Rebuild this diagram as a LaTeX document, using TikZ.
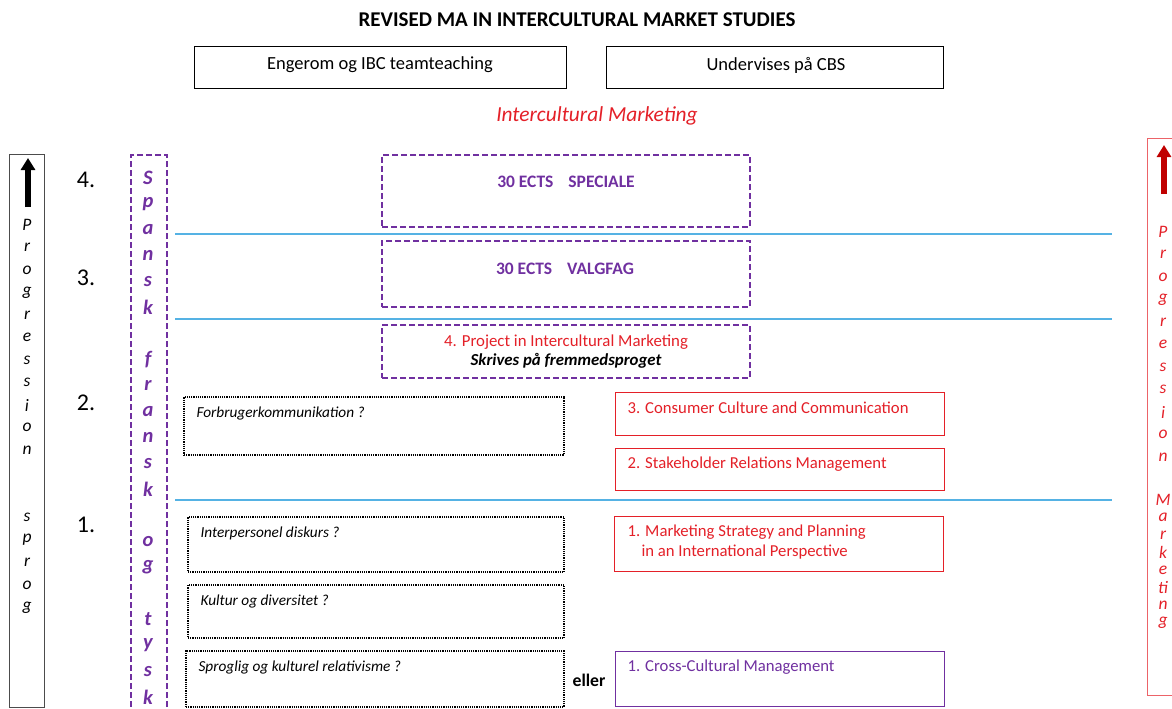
\documentclass[tikz,border=0pt]{standalone}
\usepackage{fontspec}
\setmainfont{Carlito}
\usetikzlibrary{arrows.meta}
\definecolor{mpurple}{RGB}{112,48,160}
\definecolor{mred}{RGB}{228,32,40}
\definecolor{mblue}{RGB}{85,178,228}
\definecolor{dred}{RGB}{192,0,0}
\begin{document}
\begin{tikzpicture}[x=1pt,y=-1pt,
  frame/.style={draw, line width=1pt, inner sep=0pt, anchor=north west},
  pdash/.style={draw=mpurple, line width=2pt, dash pattern=on 6pt off 3pt, inner sep=0pt, anchor=north west},
  dotbox/.style={draw=black, line width=1.8pt, dash pattern=on 1.2pt off 1pt, inner sep=0pt, anchor=north west},
  redbox/.style={draw=mred, line width=1.2pt, inner sep=0pt, anchor=north west},
  pbox/.style={draw=mpurple, line width=1.2pt, inner sep=0pt, anchor=north west},
  sep/.style={draw=mblue, line width=1.5pt},
  txt/.style={font=\fontsize{18.5}{22}\selectfont},
  itxt/.style={font=\fontsize{15.3}{18}\selectfont\itshape, anchor=west},
  rtxt/.style={font=\fontsize{16.7}{20}\selectfont, text=mred, anchor=west},
  num/.style={font=\fontsize{24}{28}\selectfont},
  vl/.style={font=\fontsize{17.5}{19}\selectfont\itshape},
  vs/.style={font=\fontsize{20.5}{22}\selectfont\bfseries\itshape, text=mpurple},
  vr/.style={font=\fontsize{17.5}{19}\selectfont\itshape, text=mred}
]
\useasboundingbox[fill=white] (0,0) rectangle (1172,709);
\begin{scope}
\clip (0,0) rectangle (1172,709);

% title and header boxes
\node[font=\fontsize{21}{24}\selectfont\bfseries] (title) at (577,20) {REVISED MA IN INTERCULTURAL MARKET STUDIES};
\node[frame, minimum width=372pt, minimum height=42pt] (hb1) at (194,46) {};
\node[txt] (hb1t) at (380,65) {Engerom og IBC teamteaching};
\node[frame, minimum width=337pt, minimum height=42pt] (hb2) at (606,46) {};
\node[txt] (hb2t) at (776,65) {Undervises på CBS};
\node[font=\fontsize{21.4}{25}\selectfont\itshape, text=mred] (im) at (597,116) {Intercultural Marketing};

% left progression box
\node[draw=black!70, line width=0.8pt, inner sep=0pt, anchor=north west, minimum width=35pt, minimum height=553pt] (lbox) at (9,154) {};
\coordinate (la0) at (28,207);
\coordinate (la1) at (28,158);
\draw[line width=6pt, -{Triangle[width=14pt,length=12pt]}] (la0) -- (la1);
\foreach \l [count=\i from 0] in {P,r,o,g,r,e,s,s,i,o,n,{},{},s,p,r,o,g}
  \node[vl] (lp\i) at (27,{225+22.5*\i}) {\l};

% numbers
\node[num] (n4) at (86,180) {4.};
\node[num] (n3) at (86,278) {3.};
\node[num] (n2) at (86,403) {2.};
\node[num] (n1) at (86,525) {1.};

% language column
\node[pdash, minimum width=36pt, minimum height=570pt] (lang) at (130,154) {};
\foreach \l [count=\i from 0] in {S,p,a,n,s,k,{},f,r,a,n,s,k,{},o,g,{},t,y,s,k}
  \node[vs] (ls\i) at (148,{178+25.95*\i}) {\l};

% separators
\coordinate (s1a) at (175,234); \coordinate (s1b) at (1112,234);
\coordinate (s2a) at (175,319); \coordinate (s2b) at (1112,319);
\coordinate (s3a) at (175,500); \coordinate (s3b) at (1112,500);
\draw[sep] (s1a) -- (s1b);
\draw[sep] (s2a) -- (s2b);
\draw[sep] (s3a) -- (s3b);

% purple dashed centre boxes
\node[pdash, minimum width=368pt, minimum height=72pt] (spec) at (381,154) {};
\node[font=\fontsize{17.5}{20}\selectfont\bfseries, text=mpurple] (spect) at (566,182) {30 ECTS\hspace{15pt}SPECIALE};
\node[pdash, minimum width=368pt, minimum height=66pt] (valg) at (381,240) {};
\node[font=\fontsize{17.5}{20}\selectfont\bfseries, text=mpurple] (valgt) at (565,269) {30 ECTS\hspace{15pt}VALGFAG};
\node[pdash, minimum width=368pt, minimum height=53pt] (proj) at (381,324) {};
\node[font=\fontsize{16.8}{20}\selectfont, text=mred] (projt) at (566,342) {4. Project in Intercultural Marketing};
\node[font=\fontsize{16.8}{20}\selectfont\bfseries\itshape] (projs) at (566,361) {Skrives på fremmedsproget};

% dotted boxes
\node[dotbox, minimum width=380pt, minimum height=58pt] (d1) at (183,396) {};
\node[itxt] (d1t) at (193,413) {Forbrugerkommunikation ?};
\node[dotbox, minimum width=376pt, minimum height=55pt] (d2) at (187,516) {};
\node[itxt] (d2t) at (197,533) {Interpersonel diskurs ?};
\node[dotbox, minimum width=376pt, minimum height=53pt] (d3) at (187,584) {};
\node[itxt] (d3t) at (197,601) {Kultur og diversitet ?};
\node[dotbox, minimum width=378pt, minimum height=56pt] (d4) at (185,650) {};
\node[itxt] (d4t) at (195,667) {Sproglig og kulturel relativisme ?};
\node[font=\fontsize{17.7}{20}\selectfont\bfseries] (eller) at (589,680) {eller};

% red boxes
\node[redbox, minimum width=329pt, minimum height=43pt] (r3) at (615,392) {};
\node[rtxt] (r3t) at (624,408) {3. Consumer Culture and Communication};
\node[redbox, minimum width=329pt, minimum height=42pt] (r2) at (615,448) {};
\node[rtxt] (r2t) at (624,464) {2. Stakeholder Relations Management};
\node[redbox, minimum width=329pt, minimum height=55pt] (r1) at (614,516) {};
\node[rtxt] (r1t) at (624,532) {1. Marketing Strategy and Planning};
\node[rtxt] (r1u) at (638,552) {in an International Perspective};
\node[pbox, minimum width=329pt, minimum height=55pt] (cc) at (615,651) {};
\node[font=\fontsize{16.7}{20}\selectfont, text=mpurple, anchor=west] (cct) at (624,667) {1. Cross-Cultural Management};

% right progression box
\node[draw=mred!70, line width=0.8pt, inner sep=0pt, anchor=north west, minimum width=40pt, minimum height=557pt] (rbox) at (1147,138) {};
\coordinate (ra0) at (1164,194);
\coordinate (ra1) at (1164,145);
\draw[dred, line width=6pt, -{Triangle[width=14pt,length=12pt]}] (ra0) -- (ra1);
\foreach \l [count=\i from 0] in {P,r,o,g,r,e,s,s,i,o,n}
  \node[vr] (rp\i) at (1163,{232+22.5*\i}) {\l};
\foreach \l [count=\i from 0] in {M,a,r,k,e,ti,n,g}
  \node[vr] (rm\i) at (1163,{500+17.6*\i}) {\l};
\end{scope}
\end{tikzpicture}
\end{document}
